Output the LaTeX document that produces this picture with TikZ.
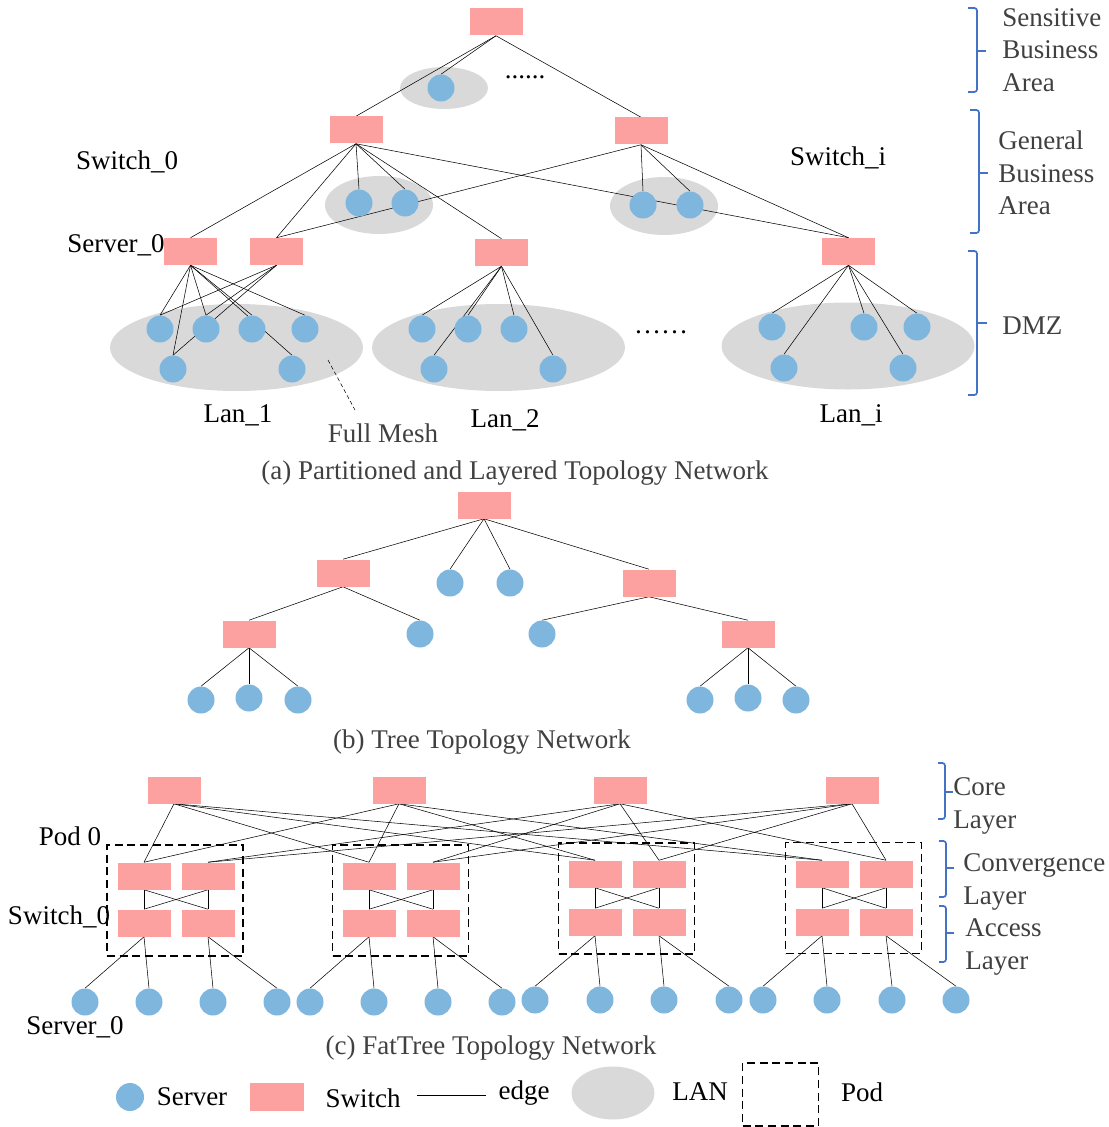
\documentclass[tikz,border=0pt]{standalone}
\usepackage{fontspec}
\setmainfont{Liberation Serif}
\usetikzlibrary{shapes.geometric}

\definecolor{swpink}{RGB}{252,161,159}
\definecolor{srvblue}{RGB}{127,182,222}
\definecolor{langray}{RGB}{217,217,217}
\definecolor{bracblue}{RGB}{68,114,196}
\definecolor{txtgray}{RGB}{64,64,64}

\pgfdeclarelayer{lanlayer}
\pgfdeclarelayer{edgelayer}
\pgfsetlayers{lanlayer,edgelayer,main}

\tikzset{every picture/.style={line width=0.9pt}}
\tikzset{
  sw/.style={fill=swpink, minimum width=39.75pt, minimum height=20.25pt, inner sep=0},
  srv/.style={circle, fill=srvblue, minimum size=20.25pt, inner sep=0},
  lanshape/.style={ellipse, fill=langray, inner sep=0},
  podbox/.style={draw, dash pattern=on 6pt off 3.5pt, line width=1pt, minimum width=102pt, minimum height=83.25pt},
  lbl/.style={font=\fontsize{20.25pt}{24.5pt}\selectfont, inner sep=0},
  glbl/.style={lbl, text=txtgray},
  layerbrace/.style={draw=bracblue, line width=1.3pt, rounded corners=2pt},
}

\begin{document}
\begin{tikzpicture}[x=0.75pt,y=0.75pt,yscale=-1,xscale=1]
	\useasboundingbox (0,0) rectangle (1108,1127);
	
	% ---------- (a) Partitioned and Layered Topology Network ----------
	%Shape: Ellipses (LAN)
	\begin{pgfonlayer}{lanlayer}
	\node[lanshape, minimum width=66pt, minimum height=31.5pt] (lanTop) at (444,88) {};
	\node[lanshape, minimum width=81pt, minimum height=43.5pt] (lanM0) at (379,205) {};
	\node[lanshape, minimum width=81pt, minimum height=43.5pt] (lanMi) at (664,206) {};
	\node[lanshape, minimum width=189.75pt, minimum height=65.25pt] (lan1) at (236.5,347.5) {};
	\node[lanshape, minimum width=189.75pt, minimum height=65.25pt] (lan2) at (498.5,347.5) {};
	\node[lanshape, minimum width=189.75pt, minimum height=65.25pt] (lani) at (848,346) {};
	\end{pgfonlayer}
	
	%Shape: Switches
	\node[sw] (topsw) at (496,22) {};
	\node[sw] (sw0) at (356,130) {};
	\node[sw] (swi) at (641,131) {};
	\node[sw] (lsw1a) at (190.5,251.5) {};
	\node[sw] (lsw1b) at (276.5,251.5) {};
	\node[sw] (lsw2) at (501.5,252.5) {};
	\node[sw] (lswi) at (848.5,251.5) {};
	
	%Shape: Servers
	\node[srv] (topsrv) at (441,88) {};
	\node[srv] (m0a) at (359,203) {};
	\node[srv] (m0b) at (405,203) {};
	\node[srv] (mia) at (643,205) {};
	\node[srv] (mib) at (690,205) {};
	\node[srv] (l1s1) at (160,329) {};
	\node[srv] (l1s2) at (206,329) {};
	\node[srv] (l1s3) at (252,329) {};
	\node[srv] (l1s4) at (305,329) {};
	\node[srv] (l1s5) at (173,369) {};
	\node[srv] (l1s6) at (292,369) {};
	\node[srv] (l2s1) at (422,329) {};
	\node[srv] (l2s2) at (468,329) {};
	\node[srv] (l2s3) at (514,329) {};
	\node[srv] (l2s4) at (434,369) {};
	\node[srv] (l2s5) at (553,369) {};
	\node[srv] (lis1) at (772,327) {};
	\node[srv] (lis2) at (864,327) {};
	\node[srv] (lis3) at (917,327) {};
	\node[srv] (lis4) at (784,368) {};
	\node[srv] (lis5) at (903,368) {};
	
	%Straight Lines
	\begin{pgfonlayer}{edgelayer}
	\draw (topsw.south) edge (sw0.north) edge (topsrv.north) edge (swi.north);
	\draw (sw0.south) edge (lsw1a.north) edge (lsw1b.north) edge (m0a.north) edge (m0b.north) edge (lsw2.north) edge (lswi.north);
	\draw (swi.south) edge (mia.north) edge (mib.north) edge (lswi.north) edge (lsw1b.north);
	\draw (lsw1a.south) edge (l1s1.north) edge (l1s2.north) edge (l1s3.north) edge (l1s4.north) edge (l1s5.north) edge (l1s6.north);
	\draw (lsw1b.south) edge (l1s1.north) edge (l1s2.north) edge (l1s5.north);
	\draw (lsw2.south) edge (l2s1.north) edge (l2s2.north) edge (l2s3.north) edge (l2s4.north) edge (l2s5.north);
	\draw (lswi.south) edge (lis1.north) edge (lis2.north) edge (lis3.north) edge (lis4.north) edge (lis5.north);
	\end{pgfonlayer}
	
	% Text Node
	\node[lbl, anchor=base] (dotsTop) at (525,79) {......};
	\node[lbl, anchor=base] (dotsLan) at (661,333) {……};
	\node[lbl] (labSw0) at (127,162) {Switch\_0};
	\node[lbl] (labSrv0) at (116,245) {Server\_0};
	\node[lbl] (labSwi) at (838,158) {Switch\_i};
	\node[lbl] (labLan1) at (238,415) {Lan\_1};
	\node[lbl] (labLan2) at (505,420) {Lan\_2};
	\node[lbl] (labLani) at (851,415) {Lan\_i};
	\node[glbl] (fullmesh) at (383,433) {Full Mesh};
	\coordinate (meshpt) at (328,360);
	\coordinate (meshend) at (355,410);
	\draw[dash pattern=on 3pt off 2pt] (meshpt) -- (meshend);
	\node[glbl] (capA) at (515,473) {(a) Partitioned and Layered Topology Network};
	
	%Braces
	\draw[layerbrace] (968,8) -- (977,8) -- (977,92) -- (968,92);
	\draw[layerbrace] (977,51) -- (986,51);
	\draw[layerbrace] (970,110) -- (979,110) -- (979,233) -- (970,233);
	\draw[layerbrace] (979,173) -- (988,173);
	\draw[layerbrace] (968,251) -- (977,251) -- (977,395) -- (968,395);
	\draw[layerbrace] (977,323) -- (987,323);
	\node[glbl, anchor=west, align=left] (labSens) at (1002,50) {Sensitive\\Business\\Area};
	\node[glbl, anchor=west, align=left] (labGen) at (998,173) {General\\Business\\Area};
	\node[glbl, anchor=west] (labDmz) at (1002,326) {DMZ};
	
	% ---------- (b) Tree Topology Network ----------
	\node[sw] (troot) at (484,505) {};
	\node[sw] (tl) at (343,573) {};
	\node[sw] (tr) at (649,583) {};
	\node[sw] (tll) at (249,634) {};
	\node[sw] (trr) at (748,634) {};
	\node[srv] (tm1) at (450,583) {};
	\node[srv] (tm2) at (510,583) {};
	\node[srv] (tlm) at (420,634) {};
	\node[srv] (trm) at (542,634) {};
	\node[srv] (tll1) at (201,700) {};
	\node[srv] (tll2) at (249,698) {};
	\node[srv] (tll3) at (298,700) {};
	\node[srv] (trr1) at (700,700) {};
	\node[srv] (trr2) at (748,698) {};
	\node[srv] (trr3) at (796,700) {};
	
	\begin{pgfonlayer}{edgelayer}
	\draw (troot.south) edge (tl.north) edge (tm1.north) edge (tm2.north) edge (tr.north);
	\draw (tl.south) edge (tll.north) edge (tlm.north);
	\draw (tr.south) edge (trm.north) edge (trr.north);
	\draw (tll.south) edge (tll1.north) edge (tll2.north) edge (tll3.north);
	\draw (trr.south) edge (trr1.north) edge (trr2.north) edge (trr3.north);
	\end{pgfonlayer}
	
	\node[glbl] (capB) at (482,742) {(b) Tree Topology Network};
	
	% ---------- (c) FatTree Topology Network ----------
	%Shape: Core switches
	\node[sw] (core0) at (174,790) {};
	\node[sw] (core1) at (399,790) {};
	\node[sw] (core2) at (620,790) {};
	\node[sw] (core3) at (852,790) {};
	
	%Shape: Pods
	\node[podbox] (pod0) at (175,900.5) {};
	\node[podbox] (pod1) at (400.5,900.5) {};
	\node[podbox] (pod2) at (626.5,898.5) {};
	\node[podbox] (pod3) at (853.5,898) {};
	
	%Shape: Convergence and access switches
	\node[sw] (cv0a) at (144,876) {};
	\node[sw] (cv0b) at (208,876) {};
	\node[sw] (ac0a) at (144,923) {};
	\node[sw] (ac0b) at (208,923) {};
	\node[sw] (cv1a) at (369,876) {};
	\node[sw] (cv1b) at (433,876) {};
	\node[sw] (ac1a) at (369,923) {};
	\node[sw] (ac1b) at (433,923) {};
	\node[sw] (cv2a) at (595,874) {};
	\node[sw] (cv2b) at (659,874) {};
	\node[sw] (ac2a) at (595,922) {};
	\node[sw] (ac2b) at (659,922) {};
	\node[sw] (cv3a) at (822,874) {};
	\node[sw] (cv3b) at (886,874) {};
	\node[sw] (ac3a) at (822,922) {};
	\node[sw] (ac3b) at (886,922) {};
	
	%Shape: Servers
	\node[srv] (sv0a) at (85,1002) {};
	\node[srv] (sv0b) at (149,1002) {};
	\node[srv] (sv0c) at (213,1002) {};
	\node[srv] (sv0d) at (277,1002) {};
	\node[srv] (sv1a) at (310,1002) {};
	\node[srv] (sv1b) at (374,1002) {};
	\node[srv] (sv1c) at (438,1002) {};
	\node[srv] (sv1d) at (502,1002) {};
	\node[srv] (sv2a) at (535,1000) {};
	\node[srv] (sv2b) at (600,1000) {};
	\node[srv] (sv2c) at (664,1000) {};
	\node[srv] (sv2d) at (729,1000) {};
	\node[srv] (sv3a) at (763,1000) {};
	\node[srv] (sv3b) at (827,1000) {};
	\node[srv] (sv3c) at (892,1000) {};
	\node[srv] (sv3d) at (956,1000) {};
	
	\begin{pgfonlayer}{edgelayer}
	\draw (core0.south) edge (cv0a.north) edge (cv1a.north) edge (cv2a.north) edge (cv3a.north);
	\draw (core1.south) edge (cv0a.north) edge (cv1a.north) edge (cv2a.north) edge (cv3a.north);
	\draw (core2.south) edge (cv0b.north) edge (cv1b.north) edge (cv2b.north) edge (cv3b.north);
	\draw (core3.south) edge (cv0b.north) edge (cv1b.north) edge (cv2b.north) edge (cv3b.north);
	\draw (cv0a.south) edge (ac0a.north) edge (ac0b.north);
	\draw (cv0b.south) edge (ac0a.north) edge (ac0b.north);
	\draw (cv1a.south) edge (ac1a.north) edge (ac1b.north);
	\draw (cv1b.south) edge (ac1a.north) edge (ac1b.north);
	\draw (cv2a.south) edge (ac2a.north) edge (ac2b.north);
	\draw (cv2b.south) edge (ac2a.north) edge (ac2b.north);
	\draw (cv3a.south) edge (ac3a.north) edge (ac3b.north);
	\draw (cv3b.south) edge (ac3a.north) edge (ac3b.north);
	\draw (ac0a.south) edge (sv0a.north) edge (sv0b.north);
	\draw (ac0b.south) edge (sv0c.north) edge (sv0d.north);
	\draw (ac1a.south) edge (sv1a.north) edge (sv1b.north);
	\draw (ac1b.south) edge (sv1c.north) edge (sv1d.north);
	\draw (ac2a.south) edge (sv2a.north) edge (sv2b.north);
	\draw (ac2b.south) edge (sv2c.north) edge (sv2d.north);
	\draw (ac3a.south) edge (sv3a.north) edge (sv3b.north);
	\draw (ac3b.south) edge (sv3c.north) edge (sv3d.north);
	\end{pgfonlayer}
	
	% Text Node
	\node[lbl] (labPod0) at (70,836) {Pod 0};
	\node[lbl] (labSwc) at (59,917) {Switch\_0};
	\node[lbl] (labSrvc) at (75,1027) {Server\_0};
	\node[glbl] (capC) at (491,1048) {(c) FatTree Topology Network};
	
	%Braces
	\draw[layerbrace] (938,763) -- (945,763) -- (945,819) -- (938,819);
	\draw[layerbrace] (945,792) -- (953,792);
	\draw[layerbrace] (939,841) -- (946,841) -- (946,897) -- (939,897);
	\draw[layerbrace] (946,868) -- (954,868);
	\draw[layerbrace] (939,906) -- (946,906) -- (946,962) -- (939,962);
	\draw[layerbrace] (946,933) -- (954,933);
	\node[glbl, anchor=west, align=left] (labCore) at (953,806) {Core\\Layer};
	\node[glbl, anchor=west, align=left] (labConv) at (963,882) {Convergence\\Layer};
	\node[glbl, anchor=west, align=left] (labAcc) at (965,947) {Access\\Layer};
	
	% ---------- Legend ----------
	\node[srv, minimum size=21pt] (lgSrv) at (130,1097) {};
	\node[lbl] (lgSrvTxt) at (192,1097) {Server};
	\node[sw, minimum width=40.5pt, minimum height=21pt] (lgSw) at (277,1097) {};
	\node[lbl] (lgSwTxt) at (363,1098) {Switch};
	\coordinate (lgEdgeA) at (417,1095);
	\coordinate (lgEdgeB) at (486,1095);
	\draw (lgEdgeA) -- (lgEdgeB);
	\node[lbl] (lgEdgeTxt) at (524,1093) {edge};
	\node[lanshape, minimum width=62.25pt, minimum height=39.75pt] (lgLan) at (613,1093) {};
	\node[lbl] (lgLanTxt) at (700,1092) {LAN};
	\node[draw, dash pattern=on 6pt off 3.5pt, line width=1pt, minimum width=57pt, minimum height=47.25pt, inner sep=0] (lgPod) at (780.5,1094.5) {};
	\node[lbl] (lgPodTxt) at (862,1092) {Pod};
	
\end{tikzpicture}
\end{document}
